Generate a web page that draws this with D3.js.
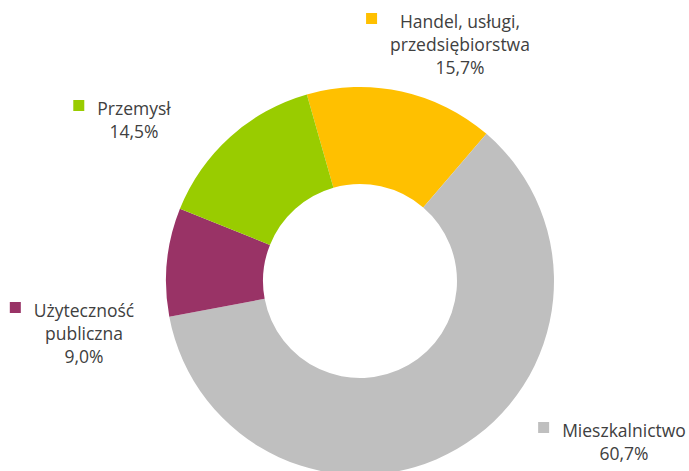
<!DOCTYPE html>
<html><head><meta charset="utf-8">
<script src="https://cdn.jsdelivr.net/npm/d3@7/dist/d3.min.js"></script>
<style>body{margin:0;background:#fff}svg{display:block}</style>
</head><body><svg id="c" width="689" height="471"></svg>
<script>
const categories = ["Handel, usługi, przedsiębiorstwa", "Mieszkalnictwo", "Użyteczność publiczna", "Przemysł"];
const values = [15.7, 60.7, 9.0, 14.5];
const colors = ["#FFC000", "#BFBFBF", "#993366", "#99CC00"];
const labelLines = [["Handel, usługi,", "przedsiębiorstwa"], ["Mieszkalnictwo"], ["Użyteczność", "publiczna"], ["Przemysł"]];
const valueLabels = ["15,7%", "60,7%", "9,0%", "14,5%"];

// layout
const cx = 360, cy = 281, outerR = 194, innerR = 97;
const startDeg = -15.9;
const labelPos = [[460, 28], [624, 437], [84, 317], [134, 115]];
const fontSize = 17.5, lineGap = 23;

const svg = d3.select("#c");
const g = svg.append("g").attr("transform", `translate(${cx},${cy})`);
const pie = d3.pie().sort(null).value(d => d)
  .startAngle(startDeg * Math.PI / 180).endAngle(startDeg * Math.PI / 180 + 2 * Math.PI);
const arc = d3.arc().innerRadius(innerR).outerRadius(outerR);
g.selectAll("path").data(pie(values)).join("path")
  .attr("d", arc).attr("fill", (d, i) => colors[i]);

const font = "'Open Sans', 'Noto Sans', sans-serif";
categories.forEach((c, i) => {
  const lines = labelLines[i].concat([valueLabels[i]]);
  const [x, y] = labelPos[i];
  const t = svg.append("text").attr("font-family", font).attr("font-size", fontSize)
    .attr("fill", "#404040").attr("text-anchor", "middle");
  lines.forEach((l, k) => t.append("tspan").attr("x", x).attr("y", y + k * lineGap).text(l));
  let minLeft = Infinity;
  t.selectAll("tspan").each(function () { minLeft = Math.min(minLeft, this.getBBox().x); });
  svg.append("rect").attr("x", minLeft - 13 - 11).attr("y", y - 15).attr("width", 11).attr("height", 11)
    .attr("fill", colors[i]);
});
</script></body></html>
